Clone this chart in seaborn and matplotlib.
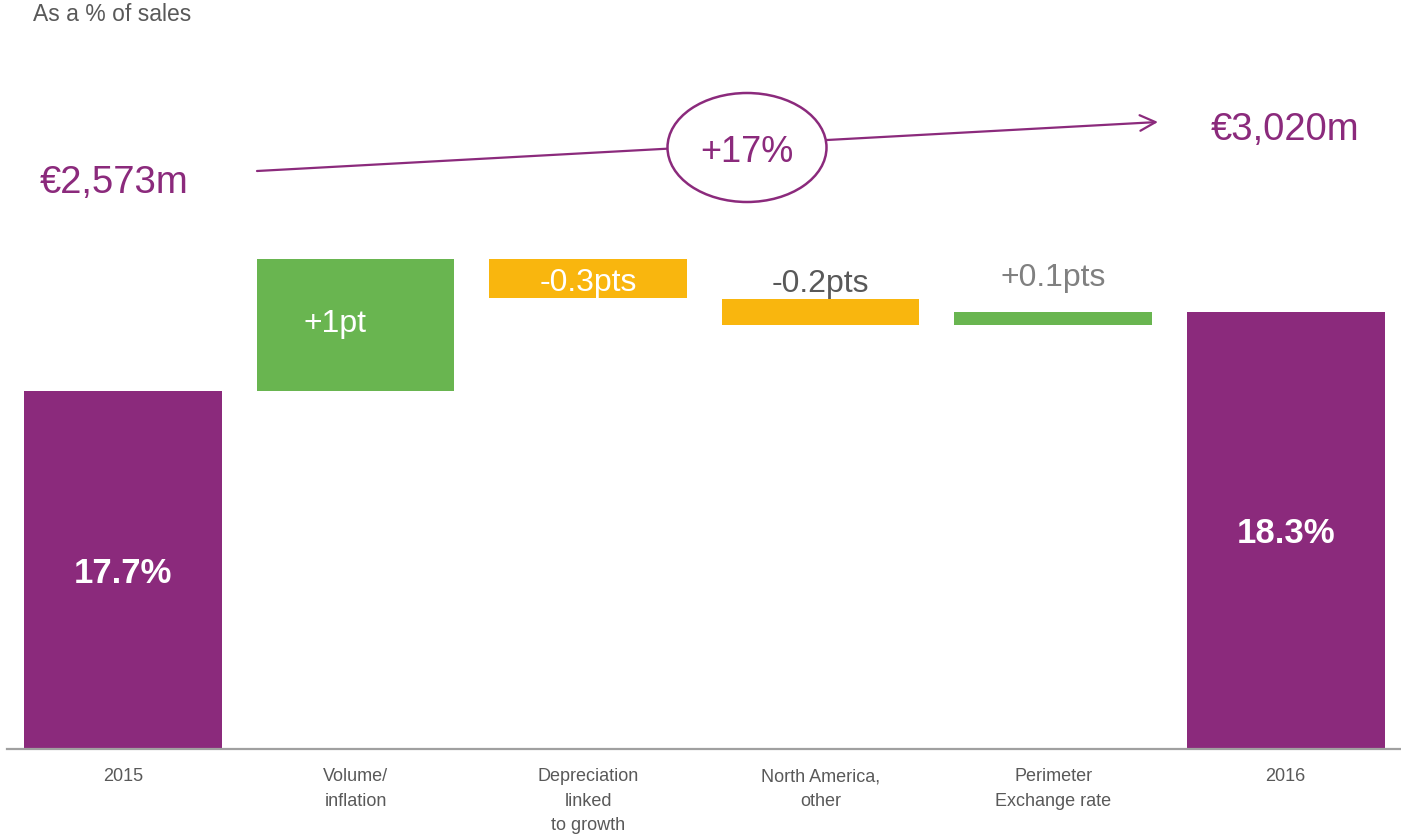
import matplotlib
matplotlib.use("Agg")
import matplotlib.pyplot as plt
from matplotlib.patches import Ellipse
from matplotlib import font_manager
import seaborn as sns
import numpy as np

# ---- data ----
categories = ["2015", "Volume/\ninflation", "Depreciation\nlinked\nto growth",
              "North America,\nother", "Perimeter\nExchange rate", "2016"]
changes = [17.7, 1.0, -0.3, -0.2, 0.1, 18.3]
is_total = [True, False, False, False, False, True]
bar_labels = ["17.7%", "+1pt", "-0.3pts", "-0.2pts", "+0.1pts", "18.3%"]
start_value = "€2,573m"
end_value = "€3,020m"
growth_label = "+17%"
subtitle = "As a % of sales"

PURPLE = "#8B2A7C"
GREEN = "#69B550"
ORANGE = "#F9B60E"

# waterfall bottoms/heights
bottoms, heights, colors = [], [], []
running = 0.0
for v, tot in zip(changes, is_total):
    if tot:
        bottoms.append(0.0); heights.append(v); colors.append(PURPLE)
        running = v
    else:
        bottoms.append(running); heights.append(v)
        colors.append(GREEN if v > 0 else ORANGE)
        running += v

sns.set_theme(style="white")
plt.rcParams["font.family"] = ["Liberation Sans", "DejaVu Sans"]

narrow_names = {f.name for f in font_manager.fontManager.ttflist}
if "Liberation Sans Narrow" in narrow_names:
    tick_family, tick_size, tick_ls = ["Liberation Sans Narrow", "DejaVu Sans"], 15, 1.42
else:
    tick_family, tick_size, tick_ls = ["Liberation Sans", "DejaVu Sans"], 13, 1.55

W, H = 1401, 834
fig = plt.figure(figsize=(W / 100, H / 100), dpi=100)
ax_left, ax_right, ax_base = 6.7, 1402.0, 749.0
ax = fig.add_axes([ax_left / W, (H - ax_base) / H, (ax_right - ax_left) / W, ax_base / H])

sns.barplot(x=categories, y=heights, bottom=bottoms, color=PURPLE, width=0.85,
            errorbar=None, ax=ax, linewidth=0, saturation=1)
for p, c in zip(ax.patches, colors):
    p.set_facecolor(c)
    p.set_edgecolor(c)

px_per_unit = 132.5
ymin = 15.0
ax.set_ylim(ymin, ymin + ax_base / px_per_unit)
ax.set_xlim(-0.5, len(categories) - 0.5)

for s in ["top", "right", "left"]:
    ax.spines[s].set_visible(False)
ax.spines["bottom"].set_color("#A0A0A0")
ax.spines["bottom"].set_linewidth(1.6)
ax.spines["bottom"].set_zorder(5)
ax.set_yticks([])
ax.set_ylabel("")
ax.tick_params(axis="x", length=0, pad=14, labelcolor="#595959")
for lab in ax.get_xticklabels():
    lab.set_linespacing(tick_ls)
    lab.set_fontfamily(tick_family)
    lab.set_fontsize(tick_size)

# helpers: pixel -> data
xspan = (ax_right - ax_left) / len(categories)
def px2x(px):
    return -0.5 + (px - ax_left) / xspan
def px2y(py):
    return ymin + (ax_base - py) / px_per_unit

# bar labels
for i, (lab, b, h) in enumerate(zip(bar_labels, bottoms, heights)):
    lo, hi = max(min(b, b + h), ymin), max(b, b + h)
    if is_total[i]:
        ax.text(i, (lo + hi) / 2, lab, ha="center", va="center_baseline",
                color="white", fontsize=25, fontweight="bold")
    elif i == 1:
        ax.text(i - 0.09, (lo + hi) / 2 + 4 / px_per_unit, lab, ha="center", va="center_baseline",
                color="white", fontsize=23)
    elif i == 2:
        ax.text(i, (lo + hi) / 2 - 1 / px_per_unit, lab, ha="center", va="center_baseline",
                color="white", fontsize=23)
    elif i == 3:
        ax.text(i, hi + 18 / px_per_unit, lab, ha="center", va="center_baseline",
                color="#595959", fontsize=23)
    else:
        ax.text(i, hi + 37 / px_per_unit, lab, ha="center", va="center_baseline",
                color="#808080", fontsize=23)

# subtitle
fig.text(33 / W, 1 - 21 / H, subtitle, ha="left", va="baseline", color="#595959", fontsize=16.5)

# value annotations
ax.text(px2x(40), px2y(193), start_value, ha="left", va="baseline", color=PURPLE, fontsize=27.5)
ax.text(px2x(1211), px2y(140), end_value, ha="left", va="baseline", color=PURPLE, fontsize=27.5)

# growth arrow
ax.annotate("", xy=(px2x(1158), px2y(122)), xytext=(px2x(257), px2y(171)),
            arrowprops=dict(arrowstyle="->", color=PURPLE, lw=1.6, mutation_scale=28,
                            shrinkA=0, shrinkB=0), zorder=3)
ell = Ellipse((px2x(747), px2y(147.5)), width=159 / xspan, height=109 / px_per_unit,
              facecolor="white", edgecolor=PURPLE, lw=1.8, zorder=4)
ax.add_patch(ell)
ax.text(px2x(747), px2y(162), growth_label, ha="center", va="baseline", color=PURPLE,
        fontsize=26, zorder=6)

fig.savefig("out.png", dpi=100)
